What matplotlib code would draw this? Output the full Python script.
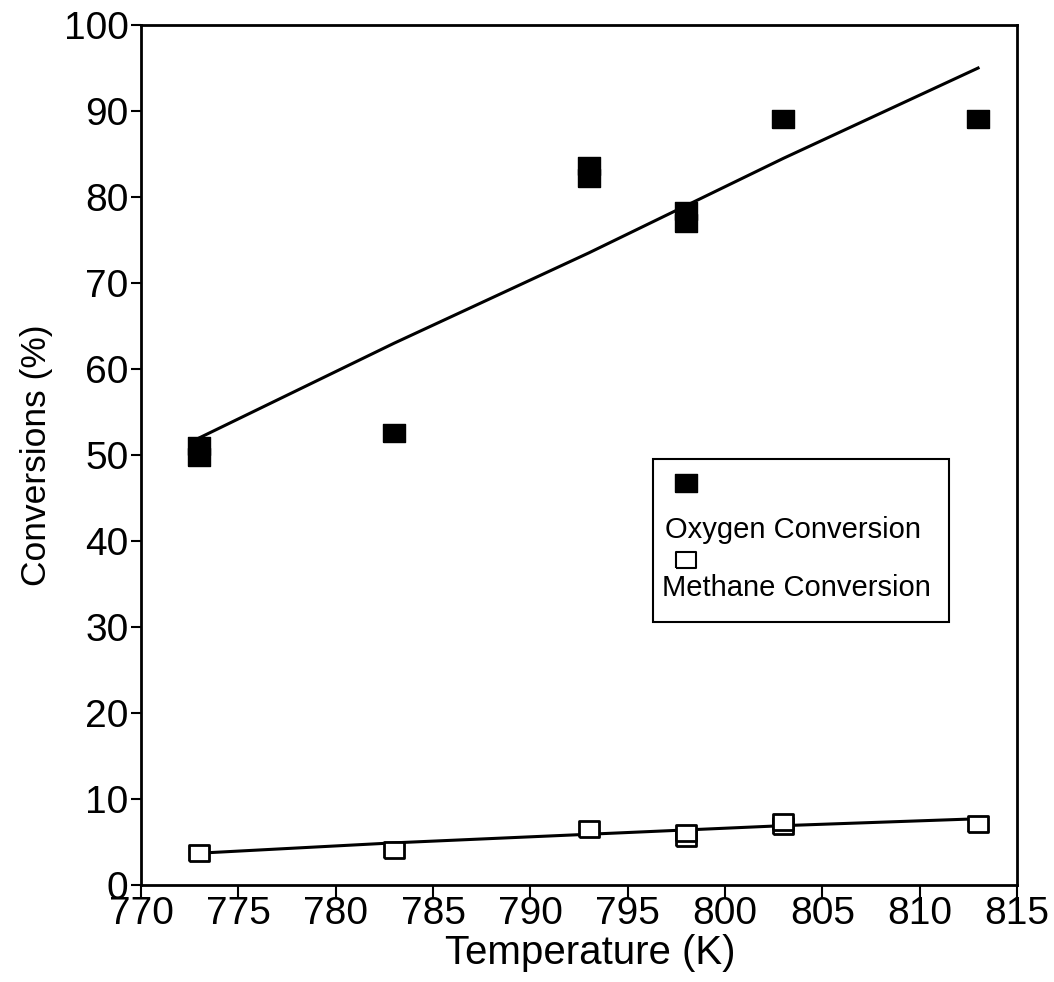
import matplotlib
matplotlib.use("Agg")
import matplotlib.pyplot as plt
from matplotlib.patches import Rectangle

plt.rcParams['font.family'] = ['Liberation Sans', 'DejaVu Sans']

# Oxygen conversion (filled squares), several temperatures have repeated runs
oxy_T = [773, 773, 783, 793, 793, 798, 798, 803, 813]
oxy_conv = [49.8, 51.0, 52.6, 82.2, 83.6, 77.0, 78.4, 89.1, 89.1]
oxy_fit_T = [773, 783, 793, 798, 803, 813]
oxy_fit = [52.0, 63.0, 73.5, 79.0, 84.5, 95.0]

# Methane conversion (open squares)
meth_T = [773, 783, 793, 798, 798, 803, 803, 813]
meth_conv = [3.7, 4.1, 6.5, 5.5, 6.1, 6.9, 7.3, 7.1]
meth_fit_T = [773, 783, 793, 798, 803, 813]
meth_fit = [3.7, 4.9, 5.9, 6.4, 6.9, 7.7]

x_ticks = [770, 775, 780, 785, 790, 795, 800, 805, 810, 815]
y_ticks = [0, 10, 20, 30, 40, 50, 60, 70, 80, 90, 100]

fig = plt.figure(figsize=(10.54, 9.82), dpi=100)
ax = fig.add_axes([0.1338, 0.0988, 0.8311, 0.8757])

# slightly wide rectangle marker like the original
rect = [(-1, -0.78), (1, -0.78), (1, 0.78), (-1, 0.78), (-1, -0.78)]

ax.plot(oxy_fit_T, oxy_fit, color='black', lw=2.2)
ax.plot(meth_fit_T, meth_fit, color='black', lw=2.2)
ax.plot(oxy_T, oxy_conv, linestyle='none', marker=rect, markersize=16,
        markerfacecolor='black', markeredgecolor='black', markeredgewidth=1)
ax.plot(meth_T, meth_conv, linestyle='none', marker=rect, markersize=15,
        markerfacecolor='white', markeredgecolor='black', markeredgewidth=2)

ax.set_xlim(770, 815)
ax.set_ylim(0, 100)
ax.set_xticks(x_ticks)
ax.set_yticks(y_ticks)

for s in ax.spines.values():
    s.set_linewidth(2)
ax.tick_params(axis='x', direction='out', length=9, width=1.5, pad=-1, labelsize=28)
ax.tick_params(axis='y', direction='out', length=7, width=1.5, pad=2, labelsize=28)

ax.set_xlabel('Temperature (K)', fontsize=29)
ax.xaxis.set_label_coords(0.5126, -0.057, transform=ax.transAxes)
ax.xaxis.label.set_va('top')
ax.set_ylabel('Conversions (%)', fontsize=25.5, labelpad=8)

# legend drawn by hand: marker above each label, as in the original
tr = ax.transAxes
ax.add_patch(Rectangle((0.5847, 0.3062), 0.3379, 0.1891, transform=tr,
                       facecolor='white', edgecolor='black', lw=1.5, zorder=5))
ax.plot([0.6222], [0.4669], transform=tr, marker=rect, markersize=16,
        markerfacecolor='black', markeredgecolor='black', zorder=6)
ax.text(0.5982, 0.4130, 'Oxygen Conversion', transform=tr, fontsize=21,
        va='center', ha='left', zorder=6)
ax.plot([0.6222], [0.3784], transform=tr, marker=rect, markersize=15,
        markerfacecolor='white', markeredgecolor='black', markeredgewidth=1.5,
        zorder=6)
ax.text(0.5947, 0.3459, 'Methane Conversion', transform=tr, fontsize=21,
        va='center', ha='left', zorder=6)

fig.savefig('out.png', dpi=100)
